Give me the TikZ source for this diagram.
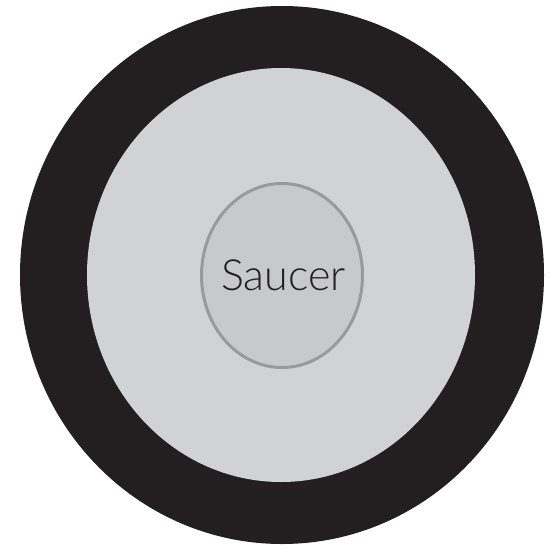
\documentclass[tikz,border=0pt]{standalone}
\usepackage{fontspec}
\setmainfont{Lato}[UprightFont={* Light}]
\definecolor{ringblack}{HTML}{231F20}
\definecolor{ringgrey}{HTML}{D1D2D4}
\definecolor{saucerfill}{HTML}{C8C9CB}
\definecolor{saucerline}{HTML}{9A9A9A}
\definecolor{txt}{HTML}{231F20}
\begin{document}
\begin{tikzpicture}[x=1pt,y=-1pt]
\useasboundingbox (0,0) rectangle (557,552);
\fill[ringblack] (282,275) ellipse [x radius=262, y radius=269];
\fill[ringgrey] (281,275) ellipse [x radius=194, y radius=207];
\draw[saucerline, fill=saucerfill, line width=3pt] (282,275.5) ellipse [x radius=80.5, y radius=92];
\node[text=txt, font=\fontsize{43}{43}\selectfont, inner sep=0pt] (saucer) at (283.5,275.5) {Saucer};
\end{tikzpicture}
\end{document}
